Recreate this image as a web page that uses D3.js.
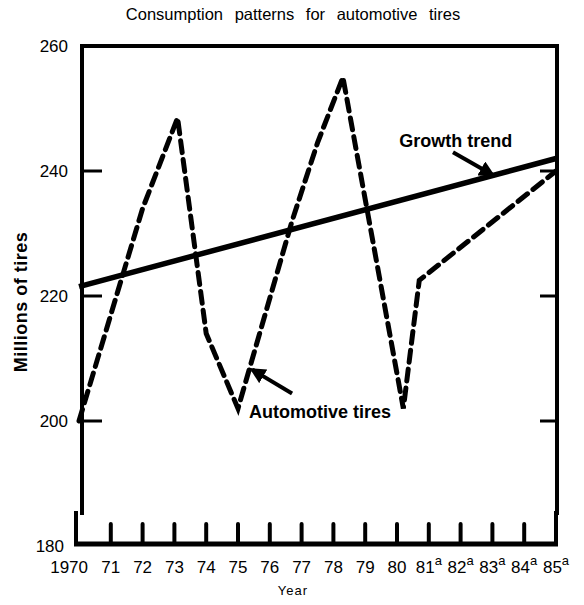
<!DOCTYPE html>
<html>

<head>
  <script type="text/javascript" src="https://d3js.org/d3.v7.min.js"></script>
  <style>
    body { margin: 0; background: #fff; }
    text { font-family: "Liberation Sans", Arial, sans-serif; fill: #000; }
    .frame { fill: none; stroke: #000; stroke-width: 4px; }
    .auto { fill: none; stroke: #000; stroke-width: 5px; stroke-dasharray: 12 7; stroke-linecap: round; }
    .trend { fill: none; stroke: #000; stroke-width: 5.5px; }
  </style>
</head>

<body>
  <script>
    // chart values
    var autoYears = [1970, 1972, 1973.1, 1974, 1975, 1976.7, 1977.5, 1978.3, 1980.2, 1980.7, 1985];
    var autoValues = [200, 234, 248.5, 214, 202, 232, 244.5, 255, 202, 222.5, 240];
    var trendYears = [1970, 1985];
    var trendValues = [221.5, 242];
    var yearTicks = d3.range(1970, 1986);
    var yearLabels = ["1970", "71", "72", "73", "74", "75", "76", "77", "78", "79", "80", "81", "82", "83", "84", "85"];
    var projected = [false, false, false, false, false, false, false, false, false, false, false, true, true, true, true, true];
    var valueTicks = [180, 200, 220, 240, 260];

    var W = 584, H = 605;
    var svg = d3.select("body").append("svg")
      .attr("width", W)
      .attr("height", H);

    // set the ranges
    var x = d3.scaleLinear().domain([1970, 1985]).range([79, 556]);
    var y = d3.scaleLinear().domain([180, 260]).range([546, 46]);

    // title
    svg.append("text")
      .attr("x", 293).attr("y", 20)
      .attr("text-anchor", "middle")
      .style("font-size", "16.5px")
      .style("word-spacing", "7px")
      .text("Consumption patterns for automotive tires");

    // frame: main box plus the lower strip holding the year ticks
    var plotTop = y(260), plotBottom = y(180) - 2;
    svg.append("path").attr("class", "frame")
      .attr("d", "M" + (x(1970) + 3) + "," + (plotBottom - 29) + "V" + plotTop + "H" + (x(1985) + 1) + "V" + (plotBottom - 29));
    svg.append("path").attr("class", "frame")
      .attr("d", "M" + (x(1970) - 3) + "," + (plotBottom - 33) + "V" + plotBottom + "H" + x(1985) + "V" + (plotBottom - 33));
    svg.append("rect")
      .attr("x", x(1970) - 5).attr("width", x(1985) - x(1970) + 7)
      .attr("y", plotBottom - 2.5).attr("height", 5)
      .attr("fill", "#000");

    // year ticks
    svg.selectAll(".xtick")
      .data(yearTicks.slice(1, -1))
      .enter().append("line")
      .attr("x1", function (d) { return x(d); })
      .attr("x2", function (d) { return x(d); })
      .attr("y1", plotBottom - 20).attr("y2", plotBottom)
      .attr("stroke", "#000").attr("stroke-width", 4)
      .attr("stroke-linecap", "round");

    // value ticks, left and right
    svg.selectAll(".ytickL")
      .data([200, 220, 240])
      .enter().append("line")
      .attr("x1", x(1970) + 3).attr("x2", x(1970) + 23)
      .attr("y1", function (d) { return y(d); })
      .attr("y2", function (d) { return y(d); })
      .attr("stroke", "#000").attr("stroke-width", 3);
    svg.selectAll(".ytickR")
      .data([200, 220, 240])
      .enter().append("line")
      .attr("x1", x(1985) - 16).attr("x2", x(1985))
      .attr("y1", function (d) { return y(d); })
      .attr("y2", function (d) { return y(d); })
      .attr("stroke", "#000").attr("stroke-width", 3);

    // value labels
    svg.selectAll(".ylab")
      .data(valueTicks)
      .enter().append("text")
      .attr("x", function (d) { return d == 180 ? 64 : 68; })
      .attr("y", function (d) { return y(d) + 6; })
      .attr("text-anchor", "end")
      .style("font-size", "17px")
      .text(function (d) { return d; });

    // year labels
    var xl = svg.selectAll(".xlab")
      .data(yearTicks)
      .enter().append("text")
      .attr("x", function (d, i) { return i == 0 ? x(d) + 9 : x(d); })
      .attr("y", 573)
      .attr("text-anchor", function (d, i) { return i == 0 ? "end" : "middle"; })
      .style("font-size", "17px");
    xl.append("tspan").text(function (d, i) { return yearLabels[i]; });
    xl.filter(function (d, i) { return projected[i]; })
      .append("tspan")
      .attr("dy", -8)
      .style("font-size", "13px")
      .text("a");

    // axis titles
    svg.append("text")
      .attr("x", 293).attr("y", 595)
      .attr("text-anchor", "middle")
      .style("font-size", "13px")
      .style("letter-spacing", "1px")
      .text("Year");
    svg.append("text")
      .attr("transform", "translate(27,302) rotate(-90)")
      .attr("text-anchor", "middle")
      .style("font-size", "18px")
      .style("font-weight", "bold")
      .style("letter-spacing", "0.5px")
      .text("Millions of tires");

    // lines
    var line = d3.line()
      .x(function (d) { return x(d[0]); })
      .y(function (d) { return y(d[1]); });
    svg.append("path")
      .datum(trendYears.map(function (d, i) { return [d, trendValues[i]]; }))
      .attr("class", "trend")
      .attr("d", line);
    svg.append("path")
      .datum(autoYears.map(function (d, i) { return [d, autoValues[i]]; }))
      .attr("class", "auto")
      .attr("d", line);

    // annotations with arrows
    svg.append("defs").append("marker")
      .attr("id", "head")
      .attr("viewBox", "0 0 10 10")
      .attr("refX", 8).attr("refY", 5)
      .attr("markerWidth", 4).attr("markerHeight", 4)
      .attr("orient", "auto")
      .append("path").attr("d", "M0,0L10,5L0,10Z").attr("fill", "#000");

    svg.append("text")
      .attr("x", x(1981.85)).attr("y", y(243.8))
      .attr("text-anchor", "middle")
      .style("font-size", "18px")
      .style("font-weight", "bold")
      .text("Growth trend");
    svg.append("line")
      .attr("x1", x(1981.76)).attr("y1", y(243))
      .attr("x2", x(1983.0)).attr("y2", y(239.4))
      .attr("stroke", "#000").attr("stroke-width", 4)
      .attr("marker-end", "url(#head)");

    svg.append("text")
      .attr("x", x(1977.58)).attr("y", y(200.5))
      .attr("text-anchor", "middle")
      .style("font-size", "18px")
      .style("font-weight", "bold")
      .text("Automotive tires");
    svg.append("line")
      .attr("x1", x(1976.7)).attr("y1", y(204.4))
      .attr("x2", x(1975.45)).attr("y2", y(208.2))
      .attr("stroke", "#000").attr("stroke-width", 4)
      .attr("marker-end", "url(#head)");
  </script>
</body>

</html>
